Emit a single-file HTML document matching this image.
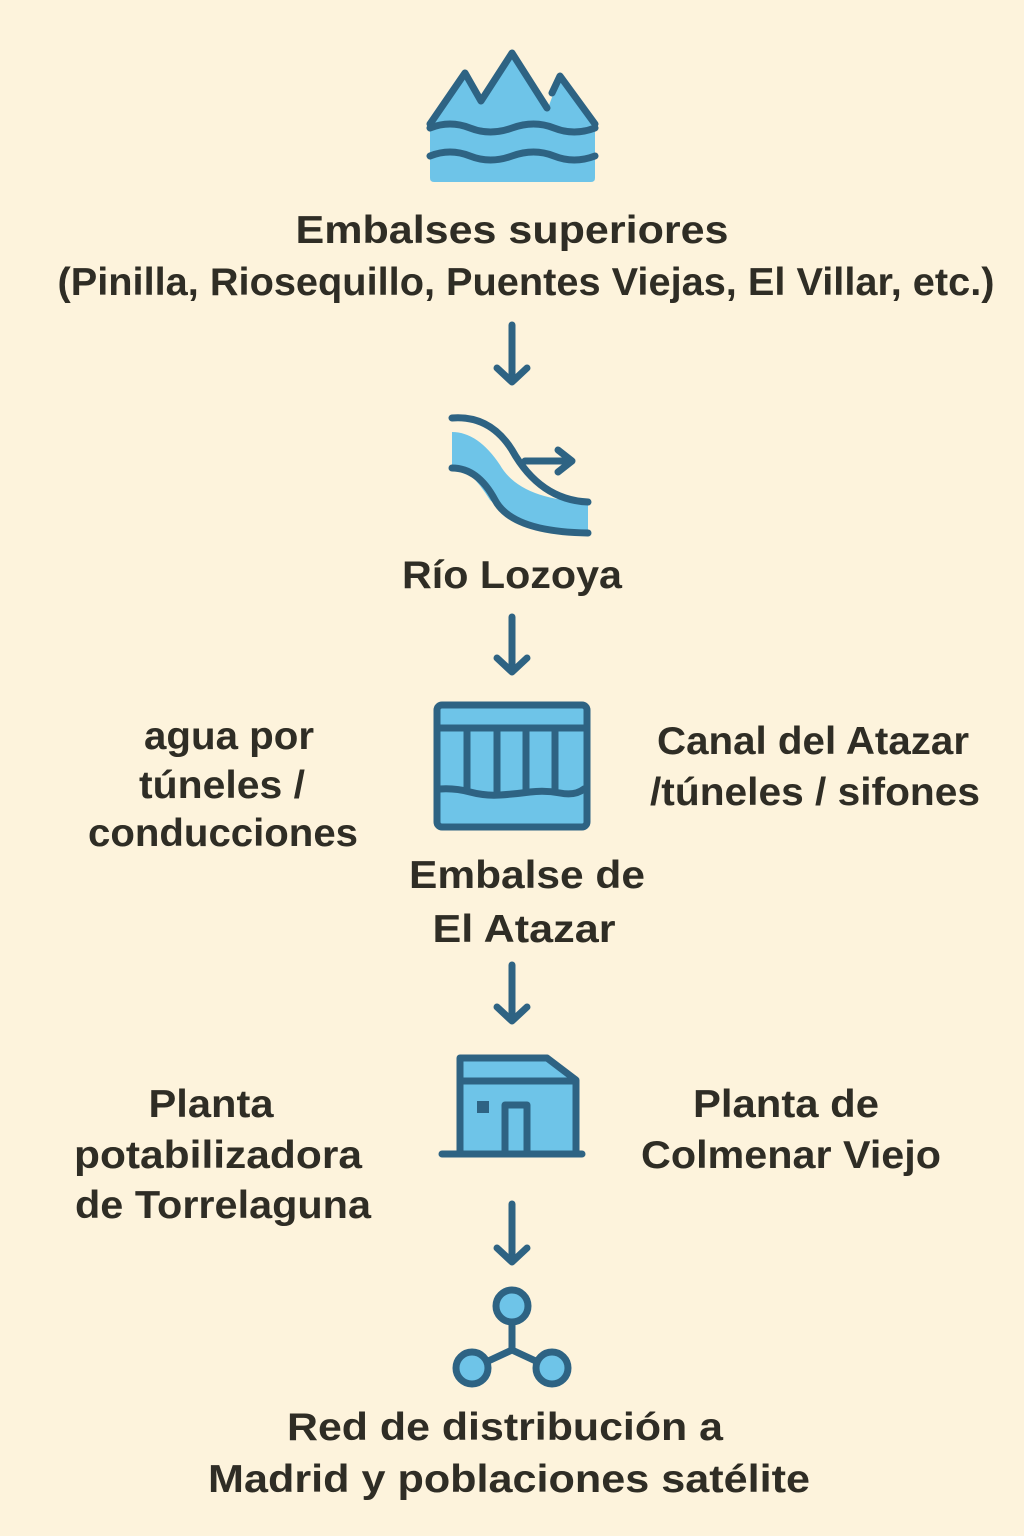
<!DOCTYPE html>
<html><head><meta charset="utf-8"><style>
html,body{margin:0;padding:0;background:#fdf3dc;}
svg{display:block}
text{font-family:"Liberation Sans",sans-serif;font-weight:bold;fill:#2f2d25;font-size:39px;text-anchor:middle}
.s{stroke:#2e6383;stroke-width:7;stroke-linecap:round;stroke-linejoin:round;fill:none}
.f{fill:#6ec4e8}
</style></head><body>
<svg width="1024" height="1536" viewBox="0 0 1024 1536" xmlns="http://www.w3.org/2000/svg">
<rect width="1024" height="1536" fill="#fdf3dc"/>
<!-- mountain icon -->
<path class="f" d="M430 124 L465 73 L481 101 L512 53 L548 108 L560 76 L595 124 L595 178 Q595 182 591 182 L434 182 Q430 182 430 178Z"/>
<path class="s" d="M430 124 L465 73 L481 101 L512 53 L547 108 M552 93 L560 76 L595 124"/>
<path class="s" d="M430 128 Q450 120 470 128 T512 128 T554 128 T595 128"/>
<path class="s" d="M430 156 Q450 148 470 156 T512 156 T554 156 T595 156"/>
<!-- arrow 1 -->
<path class="s" d="M512 325 V381 M497 368 L512 382 L527 368" stroke-width="5"/>
<!-- river icon -->
<path class="f" d="M452 432 Q478 432 500 465 Q520 500 588 502 L588 530 Q520 530 490 500 Q470 468 452 465Z"/>
<path class="s" d="M452 418 Q490 415 512 450 Q540 500 588 502"/>
<path class="s" d="M452 468 Q478 468 495 500 Q512 532 588 533"/>
<path class="s" d="M525 461 H570 M558 450 L572 461 L558 472"/>
<text x="512" y="588" textLength="220" lengthAdjust="spacingAndGlyphs">Río Lozoya</text>
<!-- arrow 2 -->
<path class="s" d="M512 617 V671 M497 658 L512 672 L527 658" stroke-width="5"/>
<!-- dam icon -->
<rect x="437" y="705" width="150" height="122" rx="5" class="f" stroke="#2e6383" stroke-width="7"/>
<path class="s" d="M440 728 H584 M440 789 Q455 788 470 792 T500 795 T530 792 T560 793 T584 789 M467 728 V790 M497 728 V792 M526 728 V792 M555 728 V792"/>
<!-- arrow 3 -->
<path class="s" d="M512 965 V1020 M497 1007 L512 1021 L527 1007" stroke-width="5"/>
<!-- plant icon -->
<path class="f" d="M460 1058 L547 1058 L576 1080 L576 1152 L460 1152Z"/>
<path class="s" d="M460 1152 V1058 H547 L576 1080 V1152 M460 1081 H576 M505 1152 V1105 H527 V1152"/>
<rect x="477" y="1101" width="12" height="12" fill="#2e6383"/>
<path class="s" d="M442 1154 H582"/>
<!-- arrow 4 -->
<path class="s" d="M512 1204 V1261 M497 1248 L512 1262 L527 1248" stroke-width="5"/>
<!-- network -->
<path class="s" d="M512 1322 V1350 M512 1350 L484 1363 M512 1350 L540 1363"/>
<circle cx="512" cy="1306" r="16" class="f" stroke="#2e6383" stroke-width="7"/>
<circle cx="472" cy="1368" r="16" class="f" stroke="#2e6383" stroke-width="7"/>
<circle cx="552" cy="1368" r="16" class="f" stroke="#2e6383" stroke-width="7"/>
<!-- texts -->
<text x="512" y="243" textLength="433" lengthAdjust="spacingAndGlyphs">Embalses superiores</text>
<text x="526" y="295" textLength="937" lengthAdjust="spacingAndGlyphs">(Pinilla, Riosequillo, Puentes Viejas, El Villar, etc.)</text>
<text x="527" y="888" textLength="236" lengthAdjust="spacingAndGlyphs">Embalse de</text>
<text x="524" y="942" textLength="183" lengthAdjust="spacingAndGlyphs">El Atazar</text>
<text x="229" y="749" textLength="170" lengthAdjust="spacingAndGlyphs">agua por</text>
<text x="222" y="798" textLength="166" lengthAdjust="spacingAndGlyphs">túneles /</text>
<text x="223" y="846" textLength="270" lengthAdjust="spacingAndGlyphs">conducciones</text>
<text x="813" y="754" textLength="312" lengthAdjust="spacingAndGlyphs">Canal del Atazar</text>
<text x="815" y="805" textLength="330" lengthAdjust="spacingAndGlyphs">/túneles / sifones</text>
<text x="211" y="1117" textLength="125" lengthAdjust="spacingAndGlyphs">Planta</text>
<text x="218" y="1168" textLength="288" lengthAdjust="spacingAndGlyphs">potabilizadora</text>
<text x="223" y="1218" textLength="296" lengthAdjust="spacingAndGlyphs">de Torrelaguna</text>
<text x="786" y="1117" textLength="186" lengthAdjust="spacingAndGlyphs">Planta de</text>
<text x="791" y="1168" textLength="300" lengthAdjust="spacingAndGlyphs">Colmenar Viejo</text>
<text x="505" y="1440" textLength="436" lengthAdjust="spacingAndGlyphs">Red de distribución a</text>
<text x="509" y="1492" textLength="602" lengthAdjust="spacingAndGlyphs">Madrid y poblaciones satélite</text>
</svg>
</body></html>
